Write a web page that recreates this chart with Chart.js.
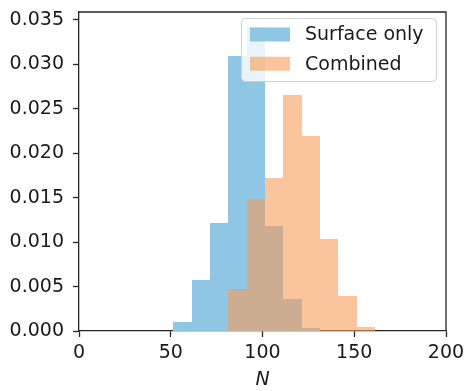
<!DOCTYPE html>
<html>
<head>
<meta charset="utf-8">
<script src="https://cdn.jsdelivr.net/npm/chart.js@4/dist/chart.umd.min.js"></script>
<style>
  html, body { margin: 0; padding: 0; background: #ffffff; }
  #wrap { width: 465px; height: 391px; position: relative; }
</style>
</head>
<body>
<div id="wrap"><canvas id="c" width="465" height="391"></canvas></div>
<script>
// ---- data ----
const binWidth = 10;
const surfaceBinStarts = [51.4, 61.4, 71.4, 81.4, 91.4, 101.4, 111.4, 121.4];
const surfaceDensity   = [0.0010, 0.0057, 0.0121, 0.0309, 0.0342, 0.0118, 0.0036, 0.0003];
const combinedBinStarts = [81.4, 91.4, 101.4, 111.4, 121.4, 131.4, 141.4, 151.4];
const combinedDensity   = [0.0047, 0.0148, 0.0172, 0.0266, 0.0219, 0.0103, 0.0039, 0.0005];
const seriesNames = ['Surface only', 'Combined'];
const xTickValues = [0, 50, 100, 150, 200];
const yTickValues = [0, 0.005, 0.010, 0.015, 0.020, 0.025, 0.030, 0.035];
const xTitle = 'N';

const FONT = 'DejaVu Sans';
const FS = 19;
const TEXT = '#1a1a1a';
const AXIS = '#262626';

const blue = 'rgb(142,198,228)';
const orange = 'rgba(247,157,90,0.6)';

function toPoints(starts, vals) {
  return starts.map((s, i) => ({ x: s + binWidth / 2, y: vals[i] }));
}

// snap bar edges to whole pixels so adjacent translucent bars meet without seams
const snapPlugin = {
  id: 'snapBars',
  afterDatasetsUpdate(chart) {
    chart.data.datasets.forEach((ds, i) => {
      chart.getDatasetMeta(i).data.forEach((el) => {
        const l = Math.round(el.x - el.width / 2);
        const r = Math.round(el.x + el.width / 2);
        el.x = (l + r) / 2;
        el.width = r - l;
        el.y = Math.round(el.y);
        el.base = Math.round(el.base);
      });
    });
  }
};

const framePlugin = {
  id: 'frameAndLegend',
  afterDatasetsDraw(chart) {
    const { ctx, chartArea: a } = chart;
    ctx.save();
    ctx.strokeStyle = AXIS;
    ctx.lineWidth = 1.3;
    ctx.beginPath();
    ctx.moveTo(a.left, a.top);
    ctx.lineTo(a.right, a.top);
    ctx.lineTo(a.right, a.bottom);
    ctx.stroke();

    // legend box
    const lx = 241.5, ly = 18.5, lw = 195, lh = 63, r = 4;
    ctx.beginPath();
    ctx.moveTo(lx + r, ly);
    ctx.lineTo(lx + lw - r, ly);
    ctx.quadraticCurveTo(lx + lw, ly, lx + lw, ly + r);
    ctx.lineTo(lx + lw, ly + lh - r);
    ctx.quadraticCurveTo(lx + lw, ly + lh, lx + lw - r, ly + lh);
    ctx.lineTo(lx + r, ly + lh);
    ctx.quadraticCurveTo(lx, ly + lh, lx, ly + lh - r);
    ctx.lineTo(lx, ly + r);
    ctx.quadraticCurveTo(lx, ly, lx + r, ly);
    ctx.closePath();
    ctx.fillStyle = 'rgba(255,255,255,0.8)';
    ctx.fill();
    ctx.strokeStyle = '#d0d0d0';
    ctx.lineWidth = 1;
    ctx.stroke();

    const rows = [34.5, 63.7];
    chart.data.datasets.forEach((ds, i) => {
      const cy = rows[i];
      ctx.fillStyle = ds.backgroundColor;
      ctx.fillRect(250, cy - 7, 40, 14);
      ctx.fillStyle = TEXT;
      ctx.font = FS + 'px "' + FONT + '"';
      ctx.textBaseline = 'middle';
      ctx.textAlign = 'left';
      ctx.fillText(ds.label, 305, cy + 1);
    });
    ctx.restore();
  }
};

new Chart(document.getElementById('c'), {
  type: 'bar',
  data: {
    datasets: [
      { label: seriesNames[0], data: toPoints(surfaceBinStarts, surfaceDensity),
        backgroundColor: blue, borderWidth: 0, grouped: false, order: 2, inflateAmount: 0,
        barPercentage: 1, categoryPercentage: 1 },
      { label: seriesNames[1], data: toPoints(combinedBinStarts, combinedDensity),
        backgroundColor: orange, borderWidth: 0, grouped: false, order: 1, inflateAmount: 0,
        barPercentage: 1, categoryPercentage: 1 }
    ]
  },
  options: {
    responsive: false,
    animation: false,
    events: [],
    layout: { padding: { left: 0, right: 19, top: 12, bottom: 0 } },
    plugins: { legend: { display: false }, tooltip: { enabled: false } },
    scales: {
      x: {
        type: 'linear', min: 0, max: 200, offset: false,
        afterBuildTicks: (s) => { s.ticks = xTickValues.map(v => ({ value: v })); },
        afterFit: (s) => { s.height = 60; s.paddingLeft = 0; s.paddingRight = 0; },
        grid: { display: true, offset: false, drawOnChartArea: false, drawTicks: true, tickLength: 6, tickWidth: 1.3, tickColor: AXIS },
        border: { display: true, color: AXIS, width: 1.3 },
        ticks: { color: TEXT, font: { family: FONT, size: FS }, padding: 5, maxRotation: 0, autoSkip: false,
                 callback: (v) => String(v) },
        title: { display: true, text: xTitle, color: TEXT, padding: { top: 0, bottom: 0 },
                 font: { family: FONT, size: FS, style: 'italic' } }
      },
      y: {
        type: 'linear', min: 0, max: 0.0359,
        afterBuildTicks: (s) => { s.ticks = yTickValues.map(v => ({ value: v })); },
        afterFit: (s) => { s.width = 79; s.paddingTop = 0; s.paddingBottom = 0; },
        grid: { display: true, offset: false, drawOnChartArea: false, drawTicks: true, tickLength: 6, tickWidth: 1.3, tickColor: AXIS },
        border: { display: true, color: AXIS, width: 1.3 },
        ticks: { color: TEXT, font: { family: FONT, size: FS }, padding: 9, autoSkip: false,
                 callback: (v) => Number(v).toFixed(3) }
      }
    }
  },
  plugins: [snapPlugin, framePlugin]
});
</script>
</body>
</html>
